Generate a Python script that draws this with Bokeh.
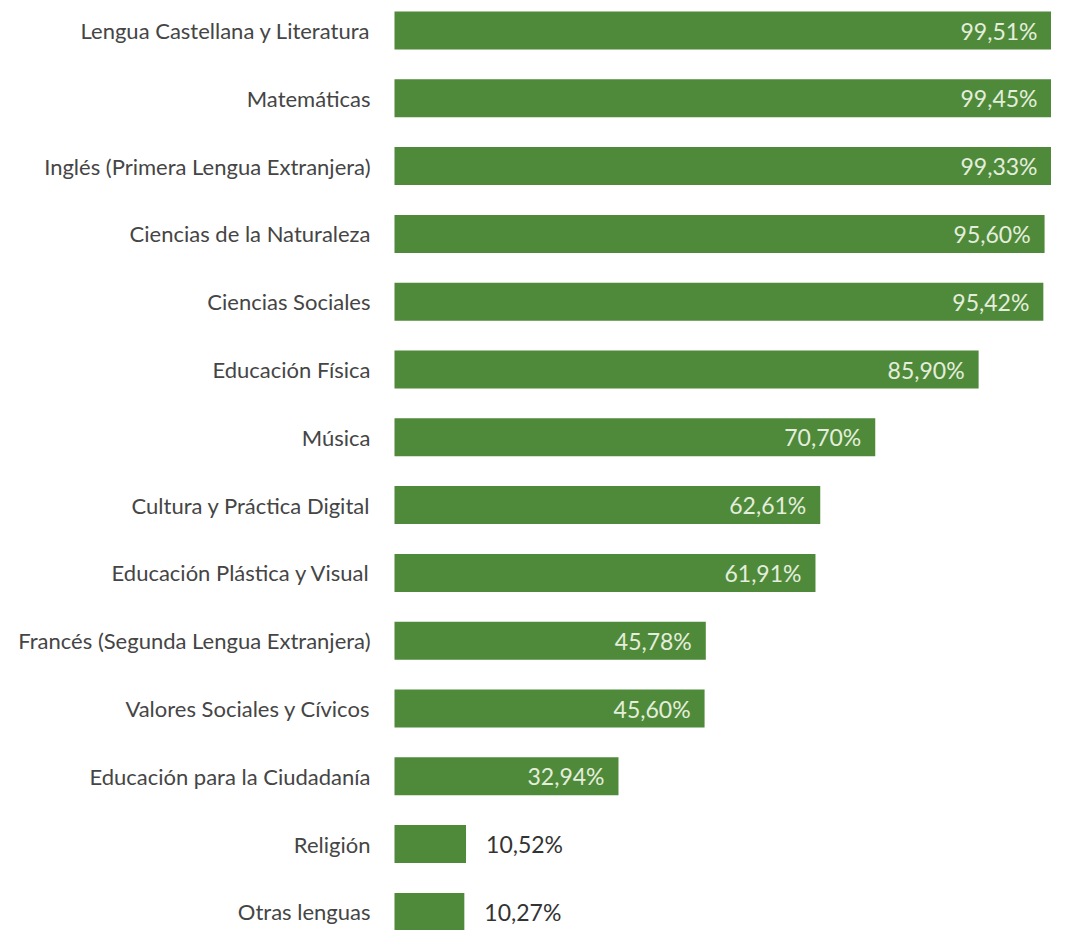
from bokeh.plotting import figure
from bokeh.models import ColumnDataSource, Range1d
from bokeh.core.properties import value
from bokeh.embed import file_html
from bokeh.resources import INLINE

categories = [
    "Lengua Castellana y Literatura",
    "Matemáticas",
    "Inglés (Primera Lengua Extranjera)",
    "Ciencias de la Naturaleza",
    "Ciencias Sociales",
    "Educación Física",
    "Música",
    "Cultura y Práctica Digital",
    "Educación Plástica y Visual",
    "Francés (Segunda Lengua Extranjera)",
    "Valores Sociales y Cívicos",
    "Educación para la Ciudadanía",
    "Religión",
    "Otras lenguas",
]
values = [99.51, 99.45, 99.33, 95.60, 95.42, 85.90, 70.70, 62.61, 61.91,
          45.78, 45.60, 32.94, 10.52, 10.27]
value_labels = ["99,51%", "99,45%", "99,33%", "95,60%", "95,42%", "85,90%",
                "70,70%", "62,61%", "61,91%", "45,78%", "45,60%", "32,94%",
                "10,52%", "10,27%"]

W, H = 1051, 930
px_per_pct = 6.8
left_px = 394
row_px = 67.8
top_px = 30

x_start = -left_px / px_per_pct
x_end = (W - left_px) / px_per_pct
y_top = -top_px / row_px
y_bottom = y_top + H / row_px

idx = list(range(len(categories)))
inside = [v > 20 for v in values]

src = ColumnDataSource(dict(y=idx, v=values, cat=categories, lab=value_labels))
ins = [i for i in idx if inside[i]]
outs = [i for i in idx if not inside[i]]
src_in = ColumnDataSource(dict(
    y=ins,
    v=[min(values[i], x_end) for i in ins],
    lab=[value_labels[i] for i in ins]))
src_out = ColumnDataSource(dict(
    y=outs,
    v=[values[i] for i in outs],
    lab=[value_labels[i] for i in outs]))

p = figure(width=W, height=H, output_backend="svg", toolbar_location=None,
           x_range=Range1d(x_start, x_end), y_range=Range1d(y_bottom, y_top),
           min_border=0, background_fill_color="white")
p.axis.visible = False
p.grid.visible = False
p.outline_line_color = None

p.hbar(y="y", left=0, right="v", height=0.56, source=src,
       fill_color="#4f8a3b", line_color=None)

p.text(x=0, y="y", text="cat", source=src, x_offset=-24,
       text_align="right", text_baseline="middle",
       text_font=value("Lato"), text_font_size="22px", text_color="#454545")

p.text(x="v", y="y", text="lab", source=src_in, x_offset=-14,
       text_align="right", text_baseline="middle",
       text_font=value("Lato"), text_font_size="23px", text_color="#e4eedb")

p.text(x="v", y="y", text="lab", source=src_out, x_offset=20,
       text_align="left", text_baseline="middle",
       text_font=value("Lato"), text_font_size="23px", text_color="#333333")

open("out.html", "w").write(file_html(p, INLINE))
